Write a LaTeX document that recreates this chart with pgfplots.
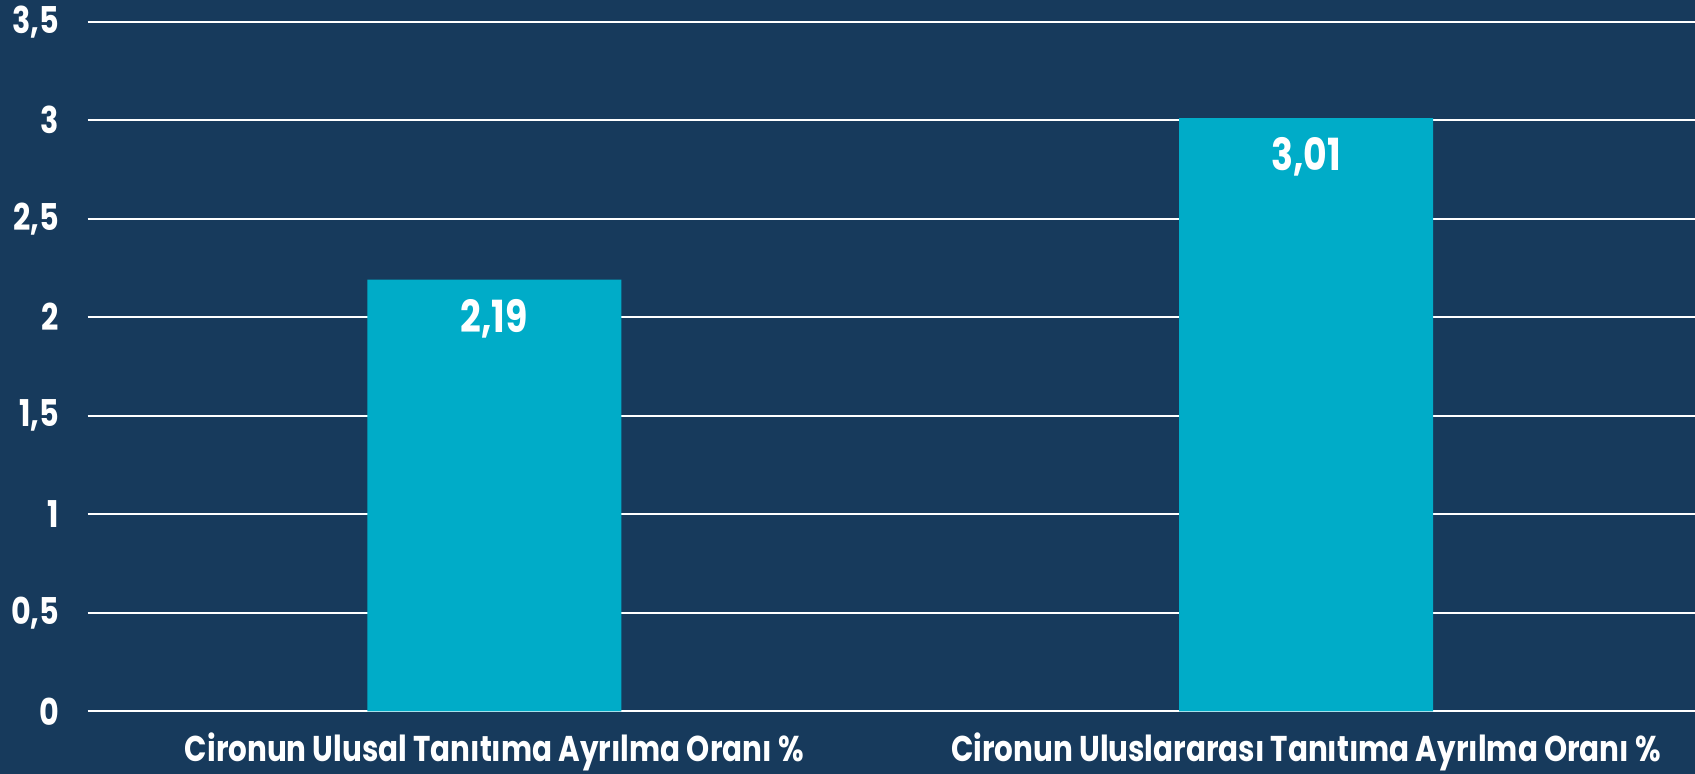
\documentclass[border=0pt]{standalone}
\usepackage{pgfplots}
\pgfplotsset{compat=1.18}
\usepackage{fontspec}
\setmainfont{Poppins}[FakeStretch=0.82]
\definecolor{bg}{RGB}{23,58,92}
\definecolor{bar}{RGB}{0,172,200}
\begin{document}
\begin{tikzpicture}[x=0.1mm,y=0.1mm]
\path[use as bounding box, fill=bg] (-87.6,-62.7) rectangle (1607.4,689.7+21.6);
\begin{axis}[
  at={(0,0)}, anchor=south west,
  scale only axis,
  width=160.74mm, height=68.97mm,
  xmin=-0.501, xmax=1.479,
  ymin=0, ymax=3.5,
  ytick={0,0.5,...,3.5},
  xtick={0,1},
  xticklabels={Cironun Ulusal Tanıtıma Ayrılma Oranı \%, Cironun Uluslararası Tanıtıma Ayrılma Oranı \%},
  axis line style={draw=none},
  major tick length=0pt,
  ymajorgrids,
  grid style={white, line width=0.6pt},
  ybar, bar width=25.4mm,
  /pgf/number format/assume math mode=true,
  /pgf/number format/use comma,
  yticklabel style={font=\bfseries\fontsize{10.5}{12}\selectfont, text=white, xshift=-1.6mm},
  xticklabel style={font=\bfseries\fontsize{10.2}{12}\selectfont, text=white, yshift=-0.9mm},
  nodes near coords,
  nodes near coords align={anchor=center},
  every node near coord/.append style={font=\bfseries\fontsize{12.6}{14}\selectfont, text=white, yshift=-3.9mm,
    /pgf/number format/fixed, /pgf/number format/precision=2, /pgf/number format/fixed zerofill},
]
\addplot[fill=bar, draw=none] coordinates {(0,2.19) (1,3.01)};
\end{axis}
\end{tikzpicture}
\end{document}
